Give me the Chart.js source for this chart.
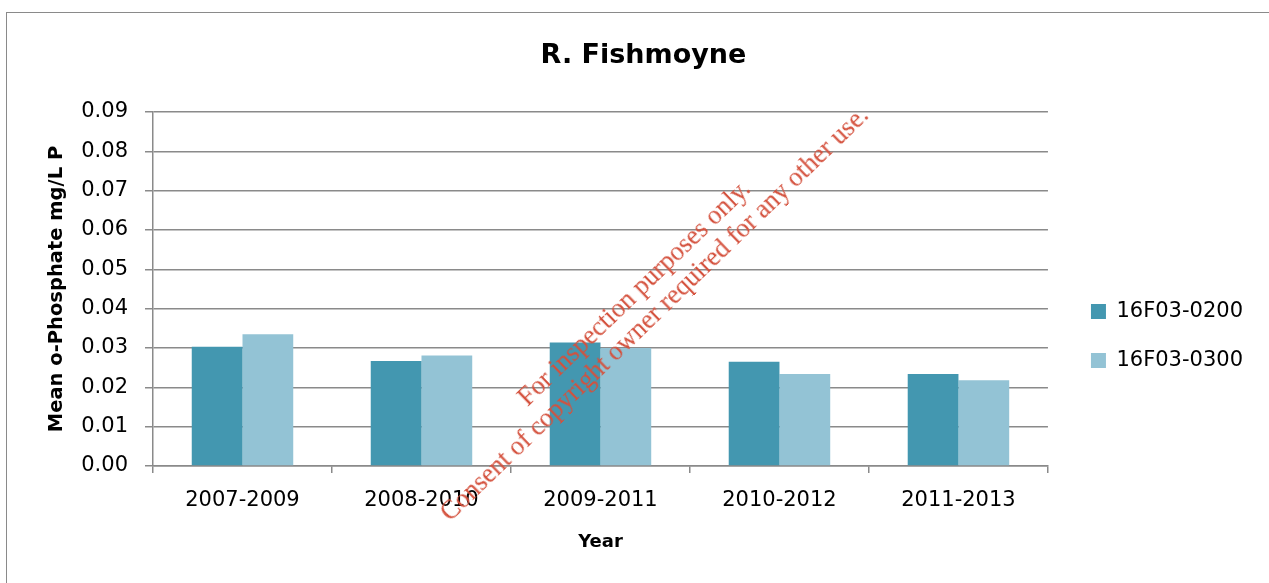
<!DOCTYPE html>
<html>
<head>
<meta charset="utf-8">
<script src="https://cdn.jsdelivr.net/npm/chart.js@4.4.1/dist/chart.umd.min.js"></script>
<style>
  html, body { margin: 0; padding: 0; background: #fff; overflow: hidden; }
  #wrap { position: relative; width: 1269px; height: 583px; }
  #frame { position: absolute; left: 6px; top: 12px; width: 1400px; height: 700px;
           border: 1.5px solid #8a8a8a; box-sizing: border-box; }
  #c { position: absolute; left: 0; top: 0; }
  #wm { position: absolute; left: 644px; top: 303px; transform: translate(-50%, -50%) rotate(-44deg);
        font-family: "Liberation Serif", "DejaVu Serif", serif; font-size: 26.5px; line-height: 29px;
        color: #d4503c; text-align: center; white-space: nowrap; pointer-events: none; }
</style>
</head>
<body>
<div id="wrap">
  <div id="frame"></div>
  <canvas id="c" width="1269" height="583"></canvas>
  <div id="wm">For inspection purposes only.<br>Consent of copyright owner required for any other use.</div>
</div>
<script>
const categories = ['2007-2009', '2008-2010', '2009-2011', '2010-2012', '2011-2013'];
const series0200 = [0.0303, 0.0267, 0.0314, 0.0265, 0.0234];
const series0300 = [0.0335, 0.0281, 0.0300, 0.0234, 0.0218];
const seriesNames = ['16F03-0200', '16F03-0300'];
const yTickLabels = ['0.00', '0.01', '0.02', '0.03', '0.04', '0.05', '0.06', '0.07', '0.08', '0.09'];

const FONT = 'DejaVu Sans';
const GRID = '#8a8a8a';

new Chart(document.getElementById('c'), {
  type: 'bar',
  data: {
    labels: categories,
    datasets: [
      { label: seriesNames[0], data: series0200, backgroundColor: '#4397b0' },
      { label: seriesNames[1], data: series0300, backgroundColor: '#93c3d5' }
    ]
  },
  options: {
    responsive: false,
    animation: false,
    devicePixelRatio: 1,
    layout: { padding: { left: 34, right: 16, top: 0, bottom: 0 } },
    datasets: { bar: { barPercentage: 1, categoryPercentage: 0.567, borderWidth: 0 } },
    plugins: {
      tooltip: { enabled: false },
      title: {
        display: true,
        text: 'R. Fishmoyne',
        color: '#000',
        font: { family: FONT, size: 27, weight: 'bold' },
        padding: { top: 40, bottom: 39.6 }
      },
      legend: {
        display: true,
        position: 'right',
        align: 'center',
        title: { display: true, text: ' ', color: 'rgba(0,0,0,0)', font: { size: 10 }, padding: { top: 77, bottom: 0 } },
        labels: {
          color: '#000',
          font: { family: FONT, size: 21 },
          boxWidth: 15,
          boxHeight: 15,
          padding: 28
        }
      }
    },
    scales: {
      x: {
        grid: { display: true, drawOnChartArea: false, drawTicks: true, tickLength: 7, color: GRID, lineWidth: 1.5, offset: true },
        border: { display: true, color: GRID, width: 1.5 },
        ticks: { color: '#000', font: { family: FONT, size: 21 }, padding: 15, maxRotation: 0, autoSkip: false },
        title: { display: true, text: 'Year', color: '#000', font: { family: FONT, size: 18, weight: 'bold' }, padding: { top: 0, bottom: 29.5 } },
        afterFit: s => { s.height = 117; }
      },
      y: {
        min: 0,
        max: 0.09,
        grid: { display: true, drawOnChartArea: true, drawTicks: true, tickLength: 8, color: GRID, lineWidth: 1.5 },
        border: { display: true, color: GRID, width: 1.5 },
        ticks: {
          stepSize: 0.01,
          color: '#000',
          font: { family: FONT, size: 21 },
          padding: 17,
          callback: (v, i) => yTickLabels[i]
        },
        title: { display: true, text: 'Mean o-Phosphate mg/L P', color: '#000', font: { family: FONT, size: 19.5, weight: 'bold' }, padding: { top: 11.3, bottom: 0 } },
        afterFit: s => { s.width = 119; }
      },
      yR: {
        position: 'right',
        display: true,
        grid: { display: false, drawTicks: false },
        border: { display: false },
        ticks: { display: false },
        afterFit: s => { s.width = 15; }
      }
    }
  }
});
</script>
</body>
</html>
